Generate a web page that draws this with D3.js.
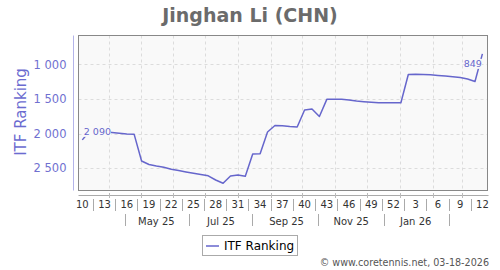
<!DOCTYPE html>
<html>
<head>
<meta charset="utf-8">
<script src="https://cdn.jsdelivr.net/npm/d3@7"></script>
<style>
  body { margin: 0; background: #fff; }
  svg text { font-family: "DejaVu Sans", sans-serif; }
</style>
</head>
<body>
<div id="chart"></div>
<script>
// week numbers (ISO), 2025 W10 .. 2026 W12
var weeks = [10,11,12,13,14,15,16,17,18,19,20,21,22,23,24,25,26,27,28,29,30,31,32,33,34,35,36,37,38,39,40,41,42,43,44,45,46,47,48,49,50,51,52,
             1,2,3,4,5,6,7,8,9,10,11,12];
// ITF ranking per week
var ranking = [2090,1965,1970,1975,1984,1994,2005,2010,2395,2445,2467,2485,2514,2533,2553,2571,2588,2608,2669,2716,
               2611,2597,2615,2294,2289,1977,1883,1887,1897,1904,1659,1645,1753,1505,1505,1505,1515,1530,1540,1548,
               1554,1554,1554,1554,1147,1144,1147,1150,1160,1170,1180,1190,1212,1248,849];
var yTicks = [1000, 1500, 2000, 2500];
var monthLabels = ["May 25", "Jul 25", "Sep 25", "Nov 25", "Jan 26"];

var width = 500, height = 270;
var blue = "#6666cc";

var svg = d3.select("#chart").append("svg")
    .attr("width", width)
    .attr("height", height);

// dates: friday of each week, first week starts monday 2025-03-03
var start = new Date(2025, 2, 7);
var data = ranking.map(function(v, i) {
  return { date: d3.timeDay.offset(start, i * 7), week: weeks[i], value: v, i: i };
});

var x = d3.scaleTime()
    .domain([data[0].date, data[data.length - 1].date])
    .range([82.3, 482.4]);

var y = d3.scaleLinear()
    .domain([577, 2813])
    .range([35, 190]);

var plot = {left: 78.5, right: 487.5, top: 35.5, bottom: 190.5};

// title
svg.append("text")
    .attr("x", 250).attr("y", 22)
    .attr("text-anchor", "middle")
    .style("font-size", "19px").style("font-weight", "bold")
    .attr("fill", "#6b6b6b")
    .text("Jinghan Li (CHN)");

// plot background
svg.append("rect")
    .attr("x", plot.left).attr("y", plot.top)
    .attr("width", plot.right - plot.left).attr("height", plot.bottom - plot.top)
    .attr("fill", "#f9f9f9");

// grid
var months = d3.timeMonth.range(new Date(2025, 3, 1), new Date(2026, 2, 2));
svg.append("g").selectAll("line")
    .data(months).enter().append("line")
    .attr("x1", function(d) { return Math.round(x(d)) + 0.5; })
    .attr("x2", function(d) { return Math.round(x(d)) + 0.5; })
    .attr("y1", plot.top).attr("y2", plot.bottom)
    .attr("stroke", "#dcdcdc").attr("stroke-dasharray", "3,3");

svg.append("g").selectAll("line")
    .data(yTicks).enter().append("line")
    .attr("x1", plot.left).attr("x2", plot.right)
    .attr("y1", function(d) { return Math.round(y(d)) + 0.5; })
    .attr("y2", function(d) { return Math.round(y(d)) + 0.5; })
    .attr("stroke", "#dcdcdc").attr("stroke-dasharray", "3,3");

// frame
svg.append("rect")
    .attr("x", plot.left).attr("y", plot.top)
    .attr("width", plot.right - plot.left).attr("height", plot.bottom - plot.top)
    .attr("fill", "none").attr("stroke", "#888");

// y axis
var fmt = d3.formatLocale({decimal: ".", thousands: " ", grouping: [3], currency: ["", ""]}).format(",");
var yAxis = svg.append("g")
    .attr("transform", "translate(73.5,0)")
    .call(d3.axisLeft(y).tickValues(yTicks).tickSize(0).tickPadding(7).tickFormat(fmt));
yAxis.select(".domain").attr("stroke", "#b4b4ea").attr("d", "M0," + plot.top + "V" + plot.bottom);
yAxis.selectAll("text").attr("fill", "#7070d0").style("font-size", "11.5px").style("font-family", "DejaVu Sans");

svg.append("text")
    .attr("transform", "translate(26,112) rotate(-90)")
    .attr("text-anchor", "middle")
    .style("font-size", "15px")
    .attr("fill", "#6b6bd0")
    .text("ITF Ranking");

// x axis
svg.append("line")
    .attr("x1", plot.left).attr("x2", plot.right + 1)
    .attr("y1", 195.5).attr("y2", 195.5)
    .attr("stroke", "#aaa");
svg.append("g").selectAll("line")
    .data(months).enter().append("line")
    .attr("x1", function(d) { return Math.round(x(d)) + 0.5; })
    .attr("x2", function(d) { return Math.round(x(d)) + 0.5; })
    .attr("y1", 193).attr("y2", 198)
    .attr("stroke", "#bbb");

var labeled = data.filter(function(d) { return d.i % 3 === 0; });
svg.append("g").selectAll("text")
    .data(labeled).enter().append("text")
    .attr("x", function(d) { return x(d.date); })
    .attr("y", 208)
    .attr("text-anchor", "middle")
    .style("font-size", "10px")
    .attr("fill", "#333")
    .text(function(d) { return d.week; });

svg.append("g").selectAll("line")
    .data(labeled.slice(0, -1)).enter().append("line")
    .attr("x1", function(d) { return Math.round(x(d3.timeDay.offset(d.date, 10.5))) + 0.5; })
    .attr("x2", function(d) { return Math.round(x(d3.timeDay.offset(d.date, 10.5))) + 0.5; })
    .attr("y1", 199).attr("y2", 211)
    .attr("stroke", "#aaa");

// month row
var monthMid = [new Date(2025, 4, 16), new Date(2025, 6, 16), new Date(2025, 8, 16), new Date(2025, 10, 16), new Date(2026, 0, 16)];
var monthSep = [new Date(2025, 3, 16), new Date(2025, 5, 16), new Date(2025, 7, 14), new Date(2025, 9, 16), new Date(2025, 11, 17), new Date(2026, 1, 16)];
svg.append("g").selectAll("text")
    .data(monthMid).enter().append("text")
    .attr("x", function(d) { return x(d); })
    .attr("y", 225)
    .attr("text-anchor", "middle")
    .style("font-size", "10px")
    .attr("fill", "#333")
    .text(function(d, i) { return monthLabels[i]; });
svg.append("g").selectAll("line")
    .data(monthSep).enter().append("line")
    .attr("x1", function(d) { return Math.round(x(d)) + 0.5; })
    .attr("x2", function(d) { return Math.round(x(d)) + 0.5; })
    .attr("y1", 214).attr("y2", 226)
    .attr("stroke", "#aaa");

// line
var line = d3.line()
    .x(function(d) { return x(d.date); })
    .y(function(d) { return y(d.value); });

svg.append("path")
    .datum(data)
    .attr("d", line)
    .attr("fill", "none")
    .attr("stroke", blue)
    .attr("stroke-width", 1.5)
    .attr("stroke-linejoin", "round");

// value labels for first and last point
function valueLabel(d, dx, dy, anchor) {
  var g = svg.append("g");
  var bg = g.append("rect").attr("fill", "#f9f9f9");
  var t = g.append("text")
      .attr("x", x(d.date) + dx).attr("y", y(d.value) + dy)
      .attr("text-anchor", anchor)
      .style("font-size", "9.5px")
      .attr("fill", blue)
      .text(fmt(d.value));
  var b = t.node().getBBox();
  bg.attr("x", b.x).attr("y", b.y + 1).attr("width", b.width).attr("height", b.height - 1);
}
valueLabel(data[0], 1.5, -5, "start");
valueLabel(data[data.length - 1], -0.5, 13, "end");

// legend
svg.append("rect")
    .attr("x", 202.5).attr("y", 235.5).attr("width", 95).attr("height", 20)
    .attr("fill", "#fff").attr("stroke", "#aaa");
svg.append("line")
    .attr("x1", 206).attr("x2", 219).attr("y1", 246).attr("y2", 246)
    .attr("stroke", blue).attr("stroke-width", 1.5);
svg.append("text")
    .attr("x", 224).attr("y", 250)
    .style("font-size", "12px")
    .attr("fill", "#000")
    .text("ITF Ranking");

// copyright
svg.append("text")
    .attr("x", 489).attr("y", 266)
    .attr("text-anchor", "end")
    .style("font-size", "9.6px")
    .attr("fill", "#555")
    .text("© www.coretennis.net, 03-18-2026");
</script>
</body>
</html>
